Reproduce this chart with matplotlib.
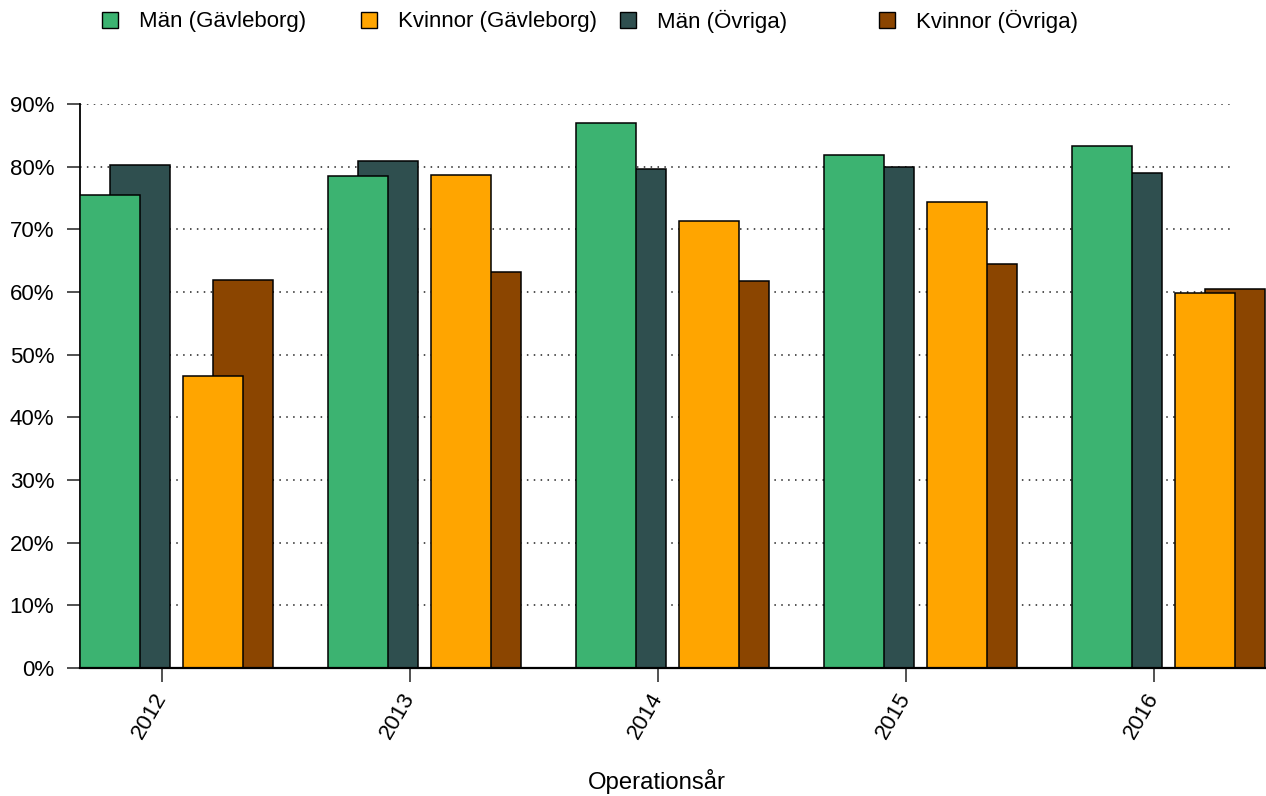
import numpy as np
import matplotlib
matplotlib.use("Agg")
import matplotlib.pyplot as plt
from matplotlib.patches import Rectangle

plt.rcParams['font.family'] = ['Liberation Sans', 'DejaVu Sans']
FONT_SIZE = 16

# --- data (percent) ---
years = ['2012', '2013', '2014', '2015', '2016']
man_gavleborg = [75.5, 78.5, 86.9, 81.9, 83.3]
kvinnor_gavleborg = [46.6, 78.6, 71.4, 74.4, 59.8]
man_ovriga = [80.3, 80.9, 79.6, 79.9, 79.0]
kvinnor_ovriga = [61.9, 63.2, 61.8, 64.5, 60.5]

series_labels = ['Män (Gävleborg)', 'Kvinnor (Gävleborg)', 'Män (Övriga)', 'Kvinnor (Övriga)']
series_colors = ['#3CB371', '#FFA500', '#2F4F4F', '#8B4500']
y_ticks = [0, 10, 20, 30, 40, 50, 60, 70, 80, 90]

# --- layout (one group = 248 px, one bar = 60 px) ---
W, H = 1266, 796
STEP = 248.0
BAR_W = 60 / STEP
OFF_MG = 0 / STEP      # green
OFF_MO = 30 / STEP     # dark slate, behind green
OFF_KG = 103 / STEP    # orange
OFF_KO = 133 / STEP    # brown, behind orange
TICK_OFF = 82 / STEP

fig = plt.figure(figsize=(W / 100, H / 100), dpi=100)
ax = fig.add_axes([80 / W, (H - 668) / H, (W - 80) / W, 564 / H])

x = np.arange(len(years))

# grid first (dotted)
ax.hlines(y_ticks[1:], 0, (1233 - 80) / STEP, colors='#222222',
          linestyles=(0, (1, 3.5)), linewidth=1.1, zorder=0)

# Övriga behind, Gävleborg on top
ax.bar(x + OFF_MO, man_ovriga, width=BAR_W, align='edge', color=series_colors[2],
       edgecolor='black', linewidth=1.1, zorder=2)
ax.bar(x + OFF_KO, kvinnor_ovriga, width=BAR_W, align='edge', color=series_colors[3],
       edgecolor='black', linewidth=1.1, zorder=2)
ax.bar(x + OFF_MG, man_gavleborg, width=BAR_W, align='edge', color=series_colors[0],
       edgecolor='black', linewidth=1.1, zorder=3)
ax.bar(x + OFF_KG, kvinnor_gavleborg, width=BAR_W, align='edge', color=series_colors[1],
       edgecolor='black', linewidth=1.1, zorder=3)

ax.set_xlim(0, (W - 80) / STEP)
ax.set_ylim(0, 90)

ax.set_yticks(y_ticks)
ax.set_yticklabels([f'{v}%' for v in y_ticks], fontsize=FONT_SIZE)
ax.set_xticks(x + TICK_OFF)
ax.set_xticklabels(years, fontsize=FONT_SIZE, rotation=60, ha='right', va='center',
                   rotation_mode='anchor')
ax.tick_params(axis='y', length=9.5, width=1.1, pad=9, colors='#222222')
ax.tick_params(axis='x', length=10, width=1.1, pad=9, colors='#222222')
for lbl in ax.get_xticklabels() + ax.get_yticklabels():
    lbl.set_color('black')

for side in ['top', 'right']:
    ax.spines[side].set_visible(False)
ax.spines['left'].set_linewidth(1.3)
ax.spines['bottom'].set_linewidth(1.6)
ax.spines['bottom'].set_zorder(4)

fig.text(657 / W, 1 - 781 / H, 'Operationsår', fontsize=17.2,
         ha='center', va='center')

# legend row along the top
legend_cx = [110, 369, 628, 887]
for cx, lab, col in zip(legend_cx, series_labels, series_colors):
    fig.add_artist(Rectangle(((cx - 8) / W, 1 - 28 / H), 16 / W, 16 / H,
                             transform=fig.transFigure, facecolor=col,
                             edgecolor='black', linewidth=1.0))
    fig.text((cx + 29) / W, 1 - 21 / H, lab, fontsize=FONT_SIZE,
             ha='left', va='center')

plt.savefig('out.png', dpi=100)
